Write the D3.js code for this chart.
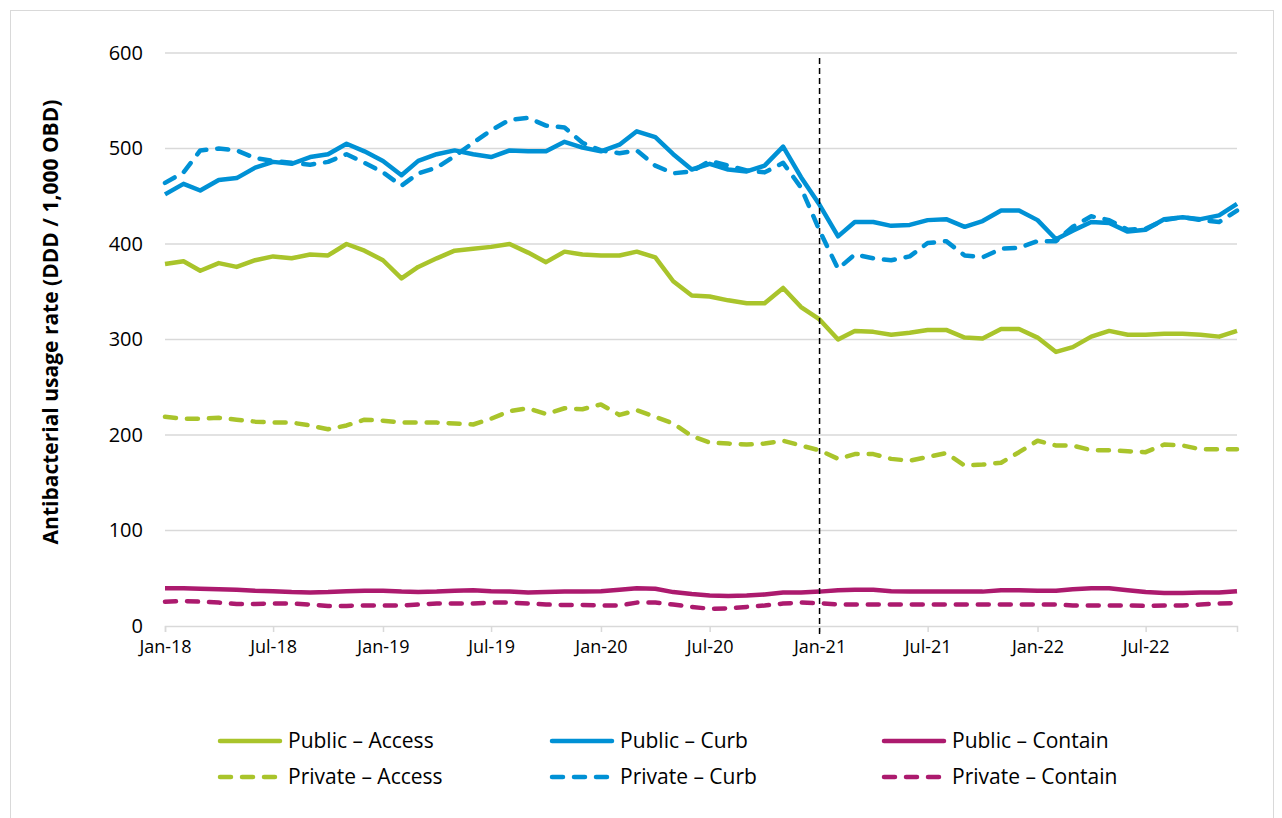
<!DOCTYPE html>
<meta charset="utf-8">
<script src="https://d3js.org/d3.v7.min.js"></script>
<style>
  body { margin: 0; background: #fff; }
  text { font-family: "Open Sans", Lato, sans-serif; fill: #000; }
</style>
<div id="chart"></div>
<script>

// months Jan-18 .. Dec-22
var months = d3.timeMonth.range(new Date(2018, 0, 1), new Date(2023, 0, 1));
var tickLabels = ["Jan-18", "Jul-18", "Jan-19", "Jul-19", "Jan-20", "Jul-20", "Jan-21", "Jul-21", "Jan-22", "Jul-22"];
var yTicks = [0, 100, 200, 300, 400, 500, 600];

var publicAccess = [379, 382, 372, 380, 376, 383, 387, 385, 389, 388, 400, 393, 383, 364, 376, 385, 393, 395, 397, 400,
  391, 381, 392, 389, 388, 388, 392, 386, 361, 346, 345, 341, 338, 338, 354, 334, 321, 300, 309, 308,
  305, 307, 310, 310, 302, 301, 311, 311, 302, 287, 292, 303, 309, 305, 305, 306, 306, 305, 303, 309];
var publicCurb = [452, 463, 456, 467, 469, 480, 486, 484, 491, 494, 505, 497, 487, 472, 487, 494, 498, 494, 491, 498,
  497, 497, 507, 501, 497, 504, 518, 512, 494, 478, 484, 478, 476, 482, 502, 470, 441, 408, 423, 423,
  419, 420, 425, 426, 418, 424, 435, 435, 425, 405, 414, 423, 422, 413, 415, 426, 428, 426, 430, 442];
var publicContain = [39.5, 39.5, 39, 38.5, 38, 37, 36.5, 35.5, 35, 35.5, 36.5, 37, 37, 36, 35.5, 36, 37, 37.5, 36.5, 36,
  35, 35.5, 36, 36, 36.5, 38, 39.5, 39, 35.5, 33.5, 32, 31.5, 32, 33, 35, 35, 36, 37.5, 38, 38,
  36.5, 36, 36, 36, 36, 36, 37.5, 37.5, 37, 37, 38.5, 39.5, 39.5, 37.5, 35.5, 34.5, 34.5, 35, 35, 36.5];
var privateAccess = [219, 217, 217, 218, 216, 214, 213, 213, 210, 206, 210, 216, 215, 213, 213, 213, 212, 211, 217, 225,
  228, 222, 228, 227, 232, 221, 226, 219, 212, 199, 192, 191, 190, 191, 194, 189, 184, 175, 180, 180,
  175, 173, 177, 181, 168, 169, 171, 182, 194, 189, 189, 184, 184, 183, 182, 190, 189, 185, 185, 185];
var privateCurb = [464, 475, 498, 500, 498, 490, 487, 485, 483, 486, 494, 485, 475, 461, 474, 480, 492, 506, 519, 530,
  532, 524, 522, 506, 498, 495, 498, 482, 474, 476, 487, 482, 477, 475, 485, 459, 414, 374, 389, 385,
  383, 387, 401, 403, 388, 386, 395, 396, 403, 403, 418, 429, 425, 415, 416, 425, 428, 425, 423, 435];
var privateContain = [25.5, 26, 25.5, 24.5, 23, 23, 23.5, 23.5, 22.5, 21, 21, 21.5, 21.5, 21.5, 22.5, 23.5, 23.5, 23.5, 24.5, 24.5,
  23.5, 22.5, 22, 22, 21.5, 21.5, 24.5, 24.5, 22.5, 20, 18, 18.5, 20, 21.5, 23.5, 24.5, 24, 22.5, 22.5, 22.5,
  22.5, 22.5, 22.5, 22.5, 22.5, 22.5, 22.5, 22.5, 22.5, 22.5, 21.5, 21.5, 21.5, 21.5, 21, 21.5, 21.5, 22.5, 23.5, 24];

var seriesNames = ["Public \u2013 Access", "Public \u2013 Curb", "Public \u2013 Contain",
  "Private \u2013 Access", "Private \u2013 Curb", "Private \u2013 Contain"];
var seriesValues = [publicAccess, publicCurb, publicContain, privateAccess, privateCurb, privateContain];
var seriesColors = ["#A9C42B", "#0091D5", "#AC1A6E", "#A9C42B", "#0091D5", "#AC1A6E"];
var seriesDashed = [false, false, false, true, true, true];

var W = 1282, H = 818;
var svg = d3.select("#chart").append("svg").attr("width", W).attr("height", H);

// border
svg.append("rect").attr("x", 10.5).attr("y", 10.5).attr("width", 1263).attr("height", 820)
  .attr("fill", "none").attr("stroke", "#d9d9d9").attr("stroke-width", 1);

var x = d3.scaleTime().domain([months[0], months[months.length - 1]]).range([165, 1237]);
var y = d3.scaleLinear().domain([0, 600]).range([626, 53]);

// grid lines
svg.append("g")
  .selectAll("line")
  .data(yTicks.slice(1))
  .join("line")
  .attr("x1", 165).attr("x2", 1237)
  .attr("y1", d => y(d)).attr("y2", d => y(d))
  .attr("stroke", "#d9d9d9").attr("stroke-width", 1.5);

// y axis labels
svg.append("g")
  .attr("transform", "translate(165,0)")
  .call(d3.axisLeft(y).tickValues(yTicks).tickSize(0).tickPadding(22))
  .call(g => g.select(".domain").remove())
  .selectAll("text")
  .style("font-size", "20px").style("font-family", "'Open Sans', sans-serif");

// x axis
var tickDates = months.filter((d, i) => i % 6 === 0);
var xAxis = svg.append("g")
  .attr("transform", "translate(0,626)")
  .call(d3.axisBottom(x).tickValues(tickDates).tickSize(6).tickPadding(8)
    .tickFormat((d, i) => tickLabels[i]));
xAxis.select(".domain").attr("stroke", "#d9d9d9").attr("stroke-width", 1.5);
xAxis.selectAll(".tick line").attr("stroke", "#d9d9d9").attr("stroke-width", 1.5);
xAxis.selectAll("text").style("font-size", "18px").style("font-family", "'Open Sans', sans-serif");

// axis title
svg.append("text")
  .attr("transform", "translate(58,322) rotate(-90)")
  .attr("text-anchor", "middle")
  .style("font-size", "21px").style("font-weight", "bold")
  .text("Antibacterial usage rate (DDD / 1,000 OBD)");

// lines
var line = d3.line().x((d, i) => x(months[i])).y(d => y(d));
var order = [2, 5, 0, 3, 4, 1];
order.forEach(function (k) {
  svg.append("path")
    .datum(seriesValues[k])
    .attr("d", line)
    .attr("fill", "none")
    .attr("stroke", seriesColors[k])
    .attr("stroke-width", 4.5)
    .attr("stroke-linejoin", "round")
    .attr("stroke-linecap", seriesDashed[k] ? "round" : "butt")
    .attr("stroke-dasharray", seriesDashed[k] ? "11,11" : null);
});

// Jan-21 marker
svg.append("line")
  .attr("x1", x(new Date(2021, 0, 1))).attr("x2", x(new Date(2021, 0, 1)))
  .attr("y1", 58).attr("y2", 636)
  .attr("stroke", "#000").attr("stroke-width", 1.5).attr("stroke-dasharray", "6,4");

// legend
var legendX = [218, 550, 882];
var legendY = [741, 777];
seriesNames.forEach(function (name, k) {
  var lx = legendX[k % 3], ly = legendY[Math.floor(k / 3)];
  svg.append("line")
    .attr("x1", lx + 2).attr("x2", lx + 62).attr("y1", ly).attr("y2", ly)
    .attr("stroke", seriesColors[k]).attr("stroke-width", 4.5)
    .attr("stroke-linecap", "round")
    .attr("stroke-dasharray", seriesDashed[k] ? "11,11" : null);
  svg.append("text")
    .attr("x", lx + 70).attr("y", ly).attr("dy", "0.35em")
    .style("font-size", "21px")
    .text(name);
});

</script>
